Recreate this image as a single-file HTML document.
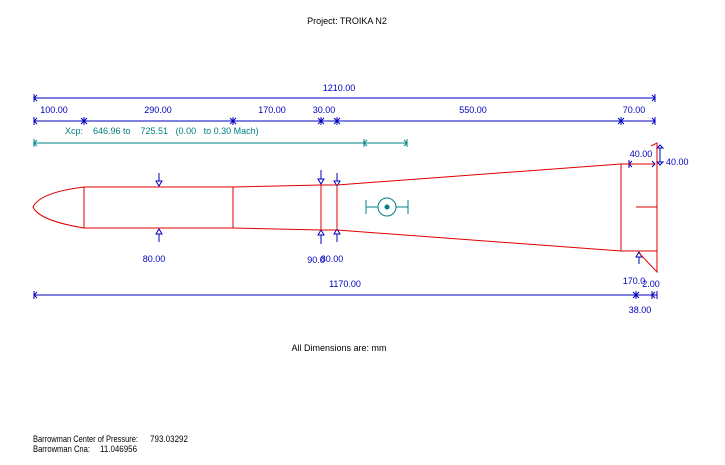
<!DOCTYPE html>
<html><head><meta charset="utf-8"><style>
html,body{margin:0;padding:0;background:#fff;}
svg{display:block;}
text{font-family:"Liberation Sans",sans-serif;font-size:9px;}
</style></head><body>
<svg width="725" height="465" viewBox="0 0 725 465" xmlns="http://www.w3.org/2000/svg">
<g fill="#000">
<text x="347" y="24" text-anchor="middle">Project: TROIKA N2</text>
<text x="339" y="351" text-anchor="middle">All Dimensions are: mm</text>
<text x="33" y="442" textLength="105" lengthAdjust="spacingAndGlyphs">Barrowman Center of Pressure:</text>
<text x="150" y="442" textLength="38" lengthAdjust="spacingAndGlyphs">793.03292</text>
<text x="33" y="452" textLength="57" lengthAdjust="spacingAndGlyphs">Barrowman Cna:</text>
<text x="100" y="452" textLength="37" lengthAdjust="spacingAndGlyphs">11.046956</text>
</g>
<g stroke="#0000c0" fill="none" stroke-width="1">
<line x1="34" y1="98" x2="655" y2="98"/>
<line x1="34" y1="121" x2="655" y2="121"/>
<line x1="34" y1="295" x2="657" y2="295"/>
<path d="M34 94v8M655 94v8M34 117v8M84 117v8M233 117v8M321 117v8M337 117v8M621 117v8M655 117v8M34 291v8M636 291v8M652 291v8M657 291v8"/>
<path d="M37 95l-3 3 3 3M652 95l3 3-3 3M37 118l-3 3 3 3M81 118l3 3-3 3M87 118l-3 3 3 3M230 118l3 3-3 3M236 118l-3 3 3 3M318 118l3 3-3 3M324 118l-3 3 3 3M334 118l3 3-3 3M340 118l-3 3 3 3M618 118l3 3-3 3M624 118l-3 3 3 3M652 118l3 3-3 3M37 292l-3 3 3 3M633 292l3 3-3 3M639 292l-3 3 3 3M655 292l-3 3 3 3"/>
<path d="M159 173v8M159 242v-8M321 170v10M321 244v-10M337 173v9M337 242v-9M639 264v-8M629 164h26M629 160v8M660 145v20"/>
</g>
<g stroke="#0000c0" fill="#fff">
<path d="M156 181l3 5 3-5zM156 234l3-5 3 5zM318 179l3 5 3-5zM318 235l3-5 3 5zM334 181l3 5 3-5zM334 234l3-5 3 5zM636 257l3-5 3 5zM632 161l-3 3 3 3M652 161l3 3-3 3M657 148l3-3 3 3zM657 162l3 3 3-3z"/>
</g>
<g fill="#0000c0">
<text x="339" y="91" text-anchor="middle">1210.00</text>
<text x="54" y="113" text-anchor="middle">100.00</text>
<text x="158" y="113" text-anchor="middle">290.00</text>
<text x="272" y="113" text-anchor="middle">170.00</text>
<text x="324" y="113" text-anchor="middle">30.00</text>
<text x="473" y="113" text-anchor="middle">550.00</text>
<text x="634" y="113" text-anchor="middle">70.00</text>
<text x="154" y="262" text-anchor="middle">80.00</text>
<text x="316" y="263" text-anchor="middle">90.0</text>
<text x="332" y="262" text-anchor="middle">80.00</text>
<text x="345" y="287" text-anchor="middle">1170.00</text>
<text x="634" y="284" text-anchor="middle">170.0</text>
<text x="651" y="287" text-anchor="middle">2.00</text>
<text x="640" y="313" text-anchor="middle">38.00</text>
<text x="641" y="157" text-anchor="middle">40.00</text>
<text x="666" y="165">40.00</text>
</g>
<g stroke="#008080" fill="none">
<line x1="34" y1="143" x2="407" y2="143"/>
<path d="M34 139v8M407 139v8M364 139v8M37 140l-3 3 3 3M404 140l3 3-3 3M367 140l-3 3 3 3"/>
<circle cx="387" cy="207" r="9"/>
<path d="M366 207h12M396 207h12M366 200v14M408 200v14"/>
</g>
<circle cx="387" cy="207" r="2.5" fill="#008080"/>
<text x="65" y="134" fill="#008080">Xcp:</text>
<text x="93" y="134" fill="#008080">646.96 to&#160;&#160;&#160;&#160;725.51&#160;&#160;&#160;(0.00&#160;&#160;&#160;to 0.30 Mach)</text>
<g stroke="#e00000" fill="none" stroke-width="1">
<path d="M84 187C60 190 38 196 33 207C38 218 60 224 84 228"/>
<path d="M84 187H233L321 185H337L621 164H655"/>
<path d="M84 228H233L321 230H337L621 251H657"/>
<path d="M84 187V228M233 187V228M321 185V230M337 187V228M621 164V251"/>
<path d="M651 146L657 143V272L639 253M636 207H657"/>
</g>
</svg>
</body></html>
